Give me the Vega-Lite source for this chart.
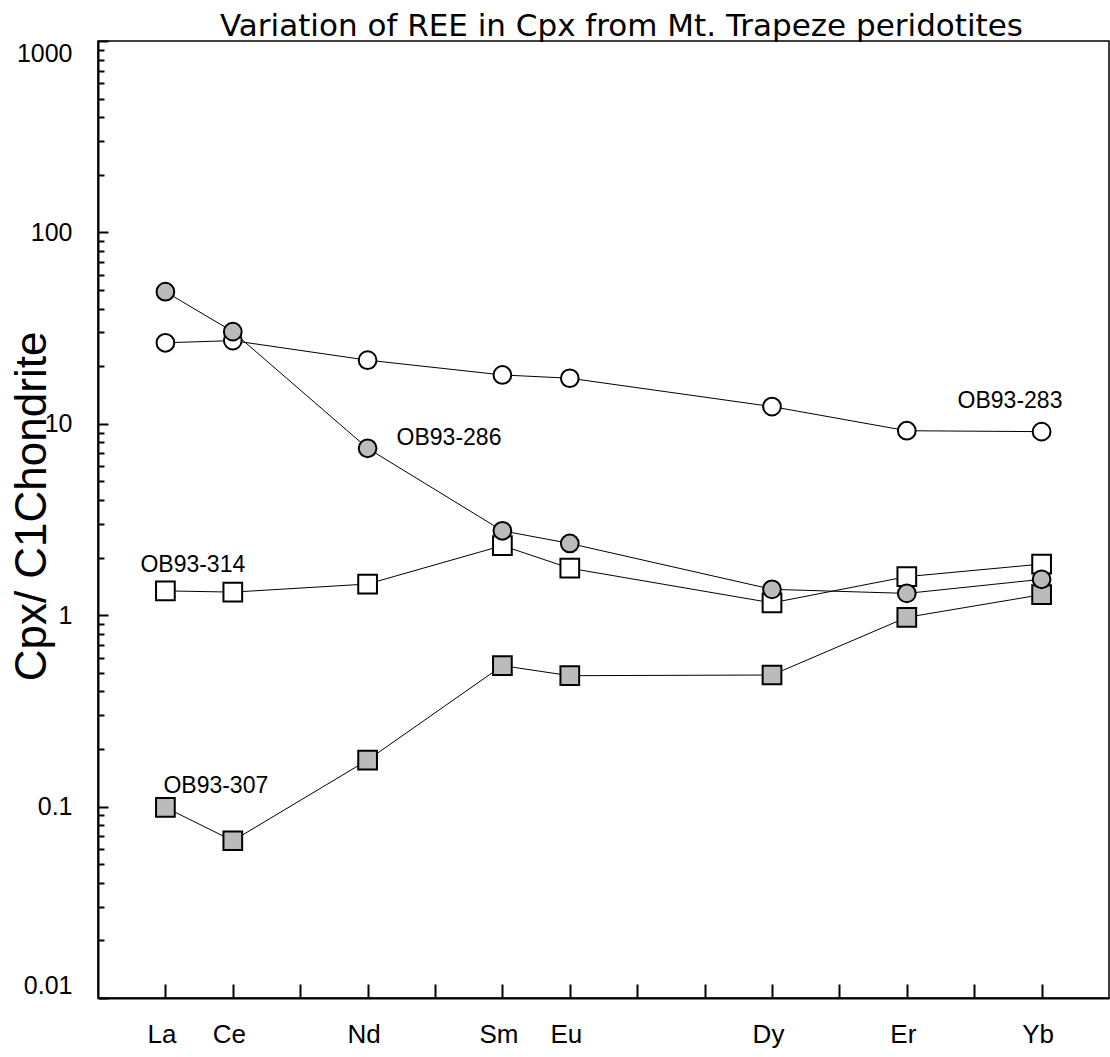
{
  "$schema": "https://vega.github.io/schema/vega-lite/v6.json",
  "autosize": "none",
  "padding": {"left": 98, "top": 41, "right": 1, "bottom": 59},
  "width": 1011,
  "height": 957,
  "title": {
    "text": "Variation of REE in Cpx from Mt. Trapeze peridotites",
    "font": "DejaVu Sans",
    "fontSize": 31,
    "fontWeight": "normal",
    "color": "black",
    "anchor": "middle",
    "frame": "group",
    "dx": 18,
    "offset": -27,
    "baseline": "alphabetic"
  },
  "config": {
    "view": {"stroke": "black", "strokeWidth": 1.5},
    "axis": {
      "domainColor": "black",
      "domainWidth": 2,
      "tickColor": "black",
      "tickWidth": 2,
      "labelColor": "black",
      "titleColor": "black",
      "grid": false,
      "labelFont": "Liberation Sans",
      "titleFont": "Liberation Sans"
    }
  },
  "data": {
    "values": [
      {"sample": "OB93-314", "element": "La", "Z": 57, "v": 1.34},
      {"sample": "OB93-314", "element": "Ce", "Z": 58, "v": 1.32},
      {"sample": "OB93-314", "element": "Nd", "Z": 60, "v": 1.455},
      {"sample": "OB93-314", "element": "Sm", "Z": 62, "v": 2.31},
      {"sample": "OB93-314", "element": "Eu", "Z": 63, "v": 1.76},
      {"sample": "OB93-314", "element": "Dy", "Z": 66, "v": 1.16},
      {"sample": "OB93-314", "element": "Er", "Z": 68, "v": 1.59},
      {"sample": "OB93-314", "element": "Yb", "Z": 70, "v": 1.85},
      {"sample": "OB93-307", "element": "La", "Z": 57, "v": 0.099},
      {"sample": "OB93-307", "element": "Ce", "Z": 58, "v": 0.0663},
      {"sample": "OB93-307", "element": "Nd", "Z": 60, "v": 0.175},
      {"sample": "OB93-307", "element": "Sm", "Z": 62, "v": 0.545},
      {"sample": "OB93-307", "element": "Eu", "Z": 63, "v": 0.483},
      {"sample": "OB93-307", "element": "Dy", "Z": 66, "v": 0.487},
      {"sample": "OB93-307", "element": "Er", "Z": 68, "v": 0.975},
      {"sample": "OB93-307", "element": "Yb", "Z": 70, "v": 1.28},
      {"sample": "OB93-283", "element": "La", "Z": 57, "v": 26.5},
      {"sample": "OB93-283", "element": "Ce", "Z": 58, "v": 27.2},
      {"sample": "OB93-283", "element": "Nd", "Z": 60, "v": 21.5},
      {"sample": "OB93-283", "element": "Sm", "Z": 62, "v": 18.0},
      {"sample": "OB93-283", "element": "Eu", "Z": 63, "v": 17.3},
      {"sample": "OB93-283", "element": "Dy", "Z": 66, "v": 12.3},
      {"sample": "OB93-283", "element": "Er", "Z": 68, "v": 9.2},
      {"sample": "OB93-283", "element": "Yb", "Z": 70, "v": 9.1},
      {"sample": "OB93-286", "element": "La", "Z": 57, "v": 49},
      {"sample": "OB93-286", "element": "Ce", "Z": 58, "v": 30.3},
      {"sample": "OB93-286", "element": "Nd", "Z": 60, "v": 7.45},
      {"sample": "OB93-286", "element": "Sm", "Z": 62, "v": 2.76},
      {"sample": "OB93-286", "element": "Eu", "Z": 63, "v": 2.37},
      {"sample": "OB93-286", "element": "Dy", "Z": 66, "v": 1.365},
      {"sample": "OB93-286", "element": "Er", "Z": 68, "v": 1.30},
      {"sample": "OB93-286", "element": "Yb", "Z": 70, "v": 1.54}
    ]
  },
  "encoding": {
    "x": {
      "field": "Z",
      "type": "quantitative",
      "scale": {"domain": [56, 71], "nice": false, "zero": false},
      "axis": {
        "title": null,
        "values": [57, 58, 59, 60, 61, 62, 63, 64, 65, 66, 67, 68, 69, 70],
        "labelExpr": "datum.value == 57 ? 'La' : datum.value == 58 ? 'Ce' : datum.value == 60 ? 'Nd' : datum.value == 62 ? 'Sm' : datum.value == 63 ? 'Eu' : datum.value == 66 ? 'Dy' : datum.value == 68 ? 'Er' : datum.value == 70 ? 'Yb' : ''",
        "tickSize": -14,
        "labelPadding": 58,
        "labelBaseline": "alphabetic",
        "labelFontSize": 26,
        "labelFlush": false,
        "labelOffset": -4,
        "labelOverlap": false
      }
    }
  },
  "layer": [
    {
      "mark": {"type": "line", "color": "black", "strokeWidth": 1},
      "encoding": {
        "y": {
          "field": "v",
          "type": "quantitative",
          "scale": {"type": "log", "domain": [0.01, 1000], "nice": false},
          "axis": {
            "orient": "left",
            "title": "Cpx/ C1Chondrite",
            "titleFontSize": 44,
            "titleFontWeight": "normal",
            "titleX": -53,
            "titleY": 465,
            "titleBaseline": "alphabetic",
            "titleAngle": 270,
            "values": [0.01, 0.1, 1, 10, 100, 1000],
            "labelExpr": "datum.value >= 1 ? format(datum.value, 'd') : format(datum.value, '.2~f')",
            "tickSize": -10,
            "labelPadding": 36,
            "labelFontSize": 25,
            "labelFlush": true,
            "labelOverlap": false
          }
        },
        "detail": {"field": "sample"},
        "order": {"field": "Z"}
      }
    },
    {
      "transform": [{"filter": "datum.sample == 'OB93-314' || datum.sample == 'OB93-307'"}],
      "mark": {"type": "point", "shape": "square", "size": 350, "filled": true, "stroke": "black", "strokeWidth": 2, "opacity": 1},
      "encoding": {
        "y": {
          "field": "v",
          "type": "quantitative",
          "scale": {"type": "log", "domain": [0.01, 1000], "nice": false},
          "axis": {
            "orient": "left",
            "title": null,
            "values": [0.02, 0.03, 0.04, 0.05, 0.06, 0.07, 0.08, 0.09, 0.2, 0.3, 0.4, 0.5, 0.6, 0.7, 0.8, 0.9, 2, 3, 4, 5, 6, 7, 8, 9, 20, 30, 40, 50, 60, 70, 80, 90, 200, 300, 400, 500, 600, 700, 800, 900],
            "labels": false,
            "domain": false,
            "tickSize": -6
          }
        },
        "fill": {
          "field": "sample",
          "type": "nominal",
          "scale": {"domain": ["OB93-283", "OB93-286", "OB93-314", "OB93-307"], "range": ["white", "#bbbbbb", "white", "#bbbbbb"]},
          "legend": null
        }
      }
    },
    {
      "transform": [{"filter": "datum.sample == 'OB93-283' || datum.sample == 'OB93-286'"}],
      "mark": {"type": "point", "shape": "circle", "size": 314, "filled": true, "stroke": "black", "strokeWidth": 2, "opacity": 1},
      "encoding": {
        "y": {"field": "v", "type": "quantitative", "scale": {"type": "log", "domain": [0.01, 1000], "nice": false}, "axis": null},
        "fill": {
          "field": "sample",
          "type": "nominal",
          "scale": {"domain": ["OB93-283", "OB93-286", "OB93-314", "OB93-307"], "range": ["white", "#bbbbbb", "white", "#bbbbbb"]},
          "legend": null
        }
      }
    },
    {
      "transform": [{"filter": "datum.sample == 'OB93-286' && datum.element == 'Nd'"}],
      "mark": {"type": "text", "align": "left", "baseline": "middle", "dx": 29, "dy": -10, "font": "Liberation Sans", "fontSize": 23, "color": "black"},
      "encoding": {
        "y": {"field": "v", "type": "quantitative", "axis": null},
        "text": {"field": "sample"}
      }
    },
    {
      "transform": [{"filter": "datum.sample == 'OB93-283' && datum.element == 'Yb'"}],
      "mark": {"type": "text", "align": "left", "baseline": "middle", "dx": -84, "dy": -31, "font": "Liberation Sans", "fontSize": 23, "color": "black"},
      "encoding": {
        "y": {"field": "v", "type": "quantitative", "axis": null},
        "text": {"field": "sample"}
      }
    },
    {
      "transform": [{"filter": "datum.sample == 'OB93-314' && datum.element == 'La'"}],
      "mark": {"type": "text", "align": "left", "baseline": "middle", "dx": -25, "dy": -26, "font": "Liberation Sans", "fontSize": 23, "color": "black"},
      "encoding": {
        "y": {"field": "v", "type": "quantitative", "axis": null},
        "text": {"field": "sample"}
      }
    },
    {
      "transform": [{"filter": "datum.sample == 'OB93-307' && datum.element == 'La'"}],
      "mark": {"type": "text", "align": "left", "baseline": "middle", "dx": -2, "dy": -21, "font": "Liberation Sans", "fontSize": 23, "color": "black"},
      "encoding": {
        "y": {"field": "v", "type": "quantitative", "axis": null},
        "text": {"field": "sample"}
      }
    }
  ],
  "resolve": {"axis": {"y": "independent"}}
}
